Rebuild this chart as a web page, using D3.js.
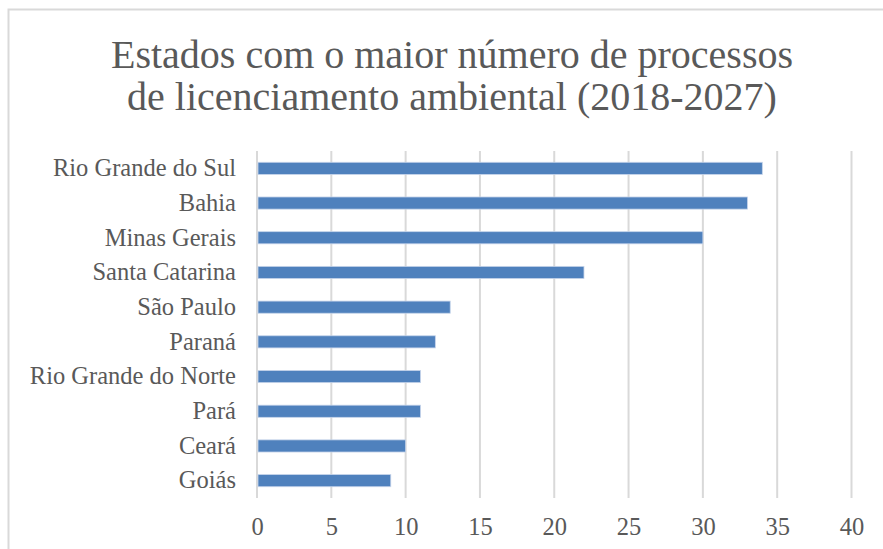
<!DOCTYPE html>
<html>
<head>
<meta charset="utf-8">
<script src="https://cdn.jsdelivr.net/npm/d3@7"></script>
<style>
  html, body { margin: 0; padding: 0; background: #fff; }
  svg text { font-family: 'Liberation Serif', 'DejaVu Serif', serif; fill: #595959; }
</style>
</head>
<body>
<div id="chart"></div>
<script>
// data, top to bottom
var estados = ['Rio Grande do Sul', 'Bahia', 'Minas Gerais', 'Santa Catarina', 'São Paulo',
  'Paraná', 'Rio Grande do Norte', 'Pará', 'Ceará', 'Goiás']
var processos = [34, 33, 30, 22, 13, 12, 11, 11, 10, 9]
var xTicks = [0, 5, 10, 15, 20, 25, 30, 35, 40]
var tituloLinhas = ['Estados com o maior número de processos', 'de licenciamento ambiental (2018-2027)']

var W = 883
var H = 549
var margin = { top: 151, left: 257, right: 31, bottom: 51 }
var width = W - margin.left - margin.right
var height = H - margin.top - margin.bottom

var svg = d3.select('#chart')
  .append('svg')
  .attr('width', W)
  .attr('height', H)

// chart border (runs off right/bottom)
svg.append('rect')
  .attr('x', 8.5)
  .attr('y', 9.5)
  .attr('width', W + 20)
  .attr('height', H + 20)
  .attr('fill', 'none')
  .attr('stroke', '#d9d9d9')
  .attr('stroke-width', 2)

// title
svg.append('text')
  .attr('text-anchor', 'middle')
  .attr('font-size', 40)
  .selectAll('tspan')
  .data(tituloLinhas)
  .enter()
  .append('tspan')
  .attr('x', 452)
  .attr('y', (d, i) => 68 + i * 42)
  .text(d => d)

var g = svg.append('g')
  .attr('transform', 'translate(' + margin.left + ',' + margin.top + ')')

var xPositionScale = d3.scaleLinear()
  .domain([0, 40])
  .range([0, width - 0.5])

var yPositionScale = d3.scaleBand()
  .domain(estados)
  .range([0, height])
  .paddingInner(0.65)
  .paddingOuter(0.325)

// gridlines
g.selectAll('.grid')
  .data(xTicks)
  .enter()
  .append('line')
  .attr('class', 'grid')
  .attr('x1', d => xPositionScale(d))
  .attr('x2', d => xPositionScale(d))
  .attr('y1', 0)
  .attr('y2', height)
  .attr('stroke', '#d9d9d9')
  .attr('stroke-width', 2)

// bars
g.selectAll('.bar')
  .data(estados)
  .enter()
  .append('rect')
  .attr('class', 'bar')
  .attr('x', xPositionScale(0) + 1)
  .attr('y', d => yPositionScale(d))
  .attr('width', (d, i) => xPositionScale(processos[i]) - xPositionScale(0) - 1)
  .attr('height', yPositionScale.bandwidth())
  .attr('fill', '#4f81bd')
  .attr('stroke', '#c6d4ea')
  .attr('stroke-width', 0.8)

// category labels
var yAxis = d3.axisLeft(yPositionScale).tickSize(0).tickPadding(21)
g.append('g')
  .attr('class', 'axis y-axis')
  .call(yAxis)
  .call(s => s.select('.domain').remove())

// x axis tick labels
var xAxis = d3.axisBottom(xPositionScale).tickValues(xTicks).tickSize(0).tickPadding(20)
g.append('g')
  .attr('class', 'axis x-axis')
  .attr('transform', 'translate(0,' + height + ')')
  .call(xAxis)
  .call(s => s.select('.domain').remove())

svg.selectAll('.axis').attr('font-family', null).attr('font-size', null)
svg.selectAll('.y-axis text').attr('font-size', 24.5)
svg.selectAll('.x-axis text').attr('font-size', 24.5)
</script>
</body>
</html>
